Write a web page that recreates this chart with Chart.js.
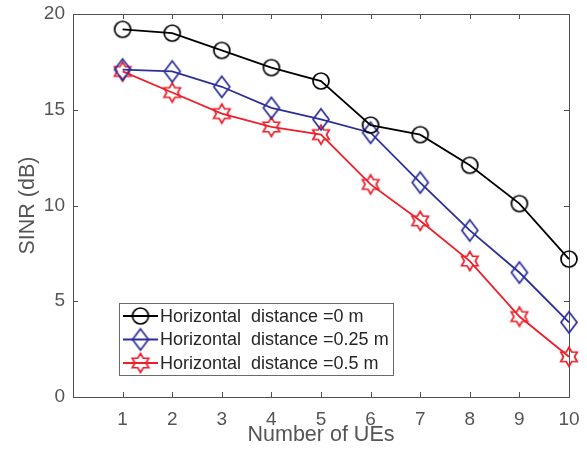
<!DOCTYPE html>
<html>
<head>
<meta charset="utf-8">
<script src="https://cdn.jsdelivr.net/npm/chart.js@4/dist/chart.umd.min.js"></script>
<style>
  html, body { margin: 0; padding: 0; background: #fff; }
  #wrap { width: 587px; height: 457px; }
</style>
</head>
<body>
<div id="wrap"><canvas id="c" width="587" height="457"></canvas></div>
<script>
// ── data ────────────────────────────────────────────────────────────────────
const numUEs   = [1, 2, 3, 4, 5, 6, 7, 8, 9, 10];
const sinr0    = [19.2, 19.0, 18.1, 17.2, 16.5, 14.2, 13.7, 12.1, 10.1, 7.2];
const sinr025  = [17.1, 17.0, 16.2, 15.1, 14.5, 13.8, 11.2, 8.7, 6.5, 3.9];
const sinr05   = [17.0, 15.9, 14.8, 14.1, 13.7, 11.1, 9.2, 7.1, 4.2, 2.1];
const labels   = ["Horizontal  distance =0 m", "Horizontal  distance =0.25 m", "Horizontal  distance =0.5 m"];
const xTicks   = [1, 2, 3, 4, 5, 6, 7, 8, 9, 10];
const yTicks   = [0, 5, 10, 15, 20];

const BLACK = "#000000", BLUE = "#2b2f9c", RED = "#ee1f2a", AXIS = "#4f4f4f";
const FONT = "'Liberation Sans', Arial, sans-serif";

// ── marker images (open markers, MATLAB style) ──────────────────────────────
function marker(kind, color) {
  const c = document.createElement("canvas");
  c.width = 26; c.height = 26;
  const g = c.getContext("2d");
  g.strokeStyle = color; g.lineWidth = 1.7; g.lineJoin = "miter";
  const cx = 13, cy = 13;
  g.beginPath();
  if (kind === "circle") {
    g.arc(cx, cy, 8, 0, Math.PI * 2);
  } else if (kind === "diamond") {
    g.moveTo(cx, cy - 10.5); g.lineTo(cx + 8, cy); g.lineTo(cx, cy + 10.5); g.lineTo(cx - 8, cy); g.closePath();
  } else {
    const R = 9.5, r = R / Math.sqrt(3);
    for (let i = 0; i < 12; i++) {
      const a = -Math.PI / 2 + i * Math.PI / 6;
      const rad = i % 2 === 0 ? R : r;
      const px = cx + rad * Math.cos(a), py = cy + rad * Math.sin(a);
      i === 0 ? g.moveTo(px, py) : g.lineTo(px, py);
    }
    g.closePath();
  }
  g.stroke();
  return c;
}
const mCircle = marker("circle", BLACK);
const mDiamond = marker("diamond", BLUE);
const mStar = marker("star", RED);

// ── box + inward ticks + legend ─────────────────────────────────────────────
const frame = {
  id: "frame",
  beforeDatasetsDraw(chart) {
    const { ctx, chartArea: a, scales: { x, y } } = chart;
    ctx.save();
    ctx.strokeStyle = AXIS; ctx.lineWidth = 1;
    ctx.strokeRect(a.left + 0.5, a.top + 0.5, a.right - a.left, a.bottom - a.top);
    ctx.beginPath();
    for (const t of xTicks) {
      const px = Math.round(x.getPixelForValue(t)) + 0.5;
      ctx.moveTo(px, a.bottom); ctx.lineTo(px, a.bottom - 5);
      ctx.moveTo(px, a.top); ctx.lineTo(px, a.top + 5);
    }
    for (const t of yTicks) {
      const py = Math.round(y.getPixelForValue(t)) + 0.5;
      ctx.moveTo(a.left, py); ctx.lineTo(a.left + 5, py);
      ctx.moveTo(a.right, py); ctx.lineTo(a.right - 5, py);
    }
    ctx.stroke();
    ctx.restore();
  },
  afterDraw(chart) {
    const { ctx } = chart;
    ctx.save();
    const L = 119, T = 303, W = 274, H = 72;
    ctx.fillStyle = "#fff";
    ctx.fillRect(L, T, W, H);
    ctx.strokeStyle = "#6a6a6a"; ctx.lineWidth = 1;
    ctx.strokeRect(L + 0.5, T + 0.5, W, H);
    const rows = [[BLACK, mCircle], [BLUE, mDiamond], [RED, mStar]];
    ctx.font = "18px " + FONT;
    ctx.textBaseline = "middle";
    rows.forEach(([col, img], i) => {
      const cy = T + 13 + i * 23.5;
      ctx.strokeStyle = col; ctx.lineWidth = 1.8;
      ctx.beginPath(); ctx.moveTo(L + 4, cy); ctx.lineTo(L + 39, cy); ctx.stroke();
      ctx.drawImage(img, L + 21.5 - 13, cy - 13);
      ctx.fillStyle = "#262626";
      ctx.fillText(labels[i], L + 41, cy + 1);
    });
    ctx.restore();
  }
};

const ds = (label, data, color, img) => ({
  label, data: numUEs.map((n, i) => ({ x: n, y: data[i] })),
  borderColor: color, borderWidth: 1.8, pointStyle: img, pointRadius: 9,
  pointHoverRadius: 9, fill: false, tension: 0, clip: false,
});

new Chart(document.getElementById("c"), {
  type: "line",
  data: {
    datasets: [
      ds(labels[0], sinr0, BLACK, mCircle),
      ds(labels[1], sinr025, BLUE, mDiamond),
      ds(labels[2], sinr05, RED, mStar),
    ],
  },
  options: {
    responsive: false, animation: false, devicePixelRatio: 1,
    layout: { padding: { top: 14, right: 18, left: 0, bottom: 0 } },
    plugins: { legend: { display: false }, tooltip: { enabled: false } },
    scales: {
      x: {
        type: "linear", min: 0, max: 10,
        afterFit: s => { s.height = 60; s.paddingLeft = 0; s.paddingRight = 0; },
        afterBuildTicks: s => { s.ticks = xTicks.map(v => ({ value: v })); },
        ticks: { color: "#555", font: { size: 19, family: FONT }, padding: 11, maxRotation: 0 },
        grid: { display: false, drawTicks: false },
        border: { display: false },
        title: { display: true, text: "Number of UEs", color: "#555", font: { size: 21.5, family: FONT }, padding: { top: 0, bottom: 9 } },
      },
      y: {
        type: "linear", min: 0, max: 20,
        afterFit: s => { s.width = 73; s.paddingTop = 0; s.paddingBottom = 0; },
        afterBuildTicks: s => { s.ticks = yTicks.map(v => ({ value: v })); },
        ticks: { color: "#555", font: { size: 19, family: FONT }, padding: 8 },
        grid: { display: false, drawTicks: false },
        border: { display: false },
        title: { display: true, text: "SINR (dB)", color: "#555", font: { size: 21.5, family: FONT }, padding: { top: 15, bottom: 0 } },
      },
    },
  },
  plugins: [frame],
});
</script>
</body>
</html>
